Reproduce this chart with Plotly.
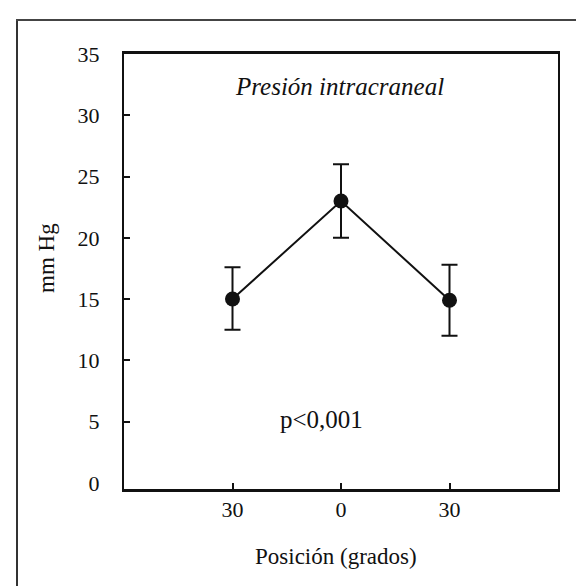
import plotly.graph_objects as go

# ---- data ----
positions = [1, 2, 3]
position_labels = ["30", "0", "30"]
pressure_mean = [15.0, 23.0, 14.9]
err_upper = [2.6, 3.0, 2.9]
err_lower = [2.5, 3.0, 2.9]
y_tick_values = [0, 5, 10, 15, 20, 25, 30, 35]
y_inner_ticks = [5, 10, 15, 20, 25, 30]

W, H = 584, 586
L, R, T, B = 116, 34, 46, 105
PW, PH = W - L - R, H - T - B
FONT = "Liberation Serif"


def px(x):
    return (x - L) / PW


def py(y):
    return (H - B - y) / PH


fig = go.Figure()
fig.add_trace(go.Scatter(
    x=positions, y=pressure_mean,
    mode="lines+markers",
    line=dict(color="#111", width=2),
    marker=dict(color="#111", size=15),
    error_y=dict(type="data", symmetric=False, array=err_upper, arrayminus=err_lower,
                 color="#111", thickness=2, width=8),
    showlegend=False,
))

fig.update_xaxes(
    range=[0, 4], tickvals=positions, ticktext=position_labels,
    showline=True, linecolor="#111", linewidth=2.5, mirror=True,
    ticks="inside", ticklen=6, tickwidth=2, tickcolor="#111",
    ticklabelstandoff=-1,
    showgrid=False, zeroline=False,
    tickfont=dict(family=FONT, size=22, color="#111"),
)
fig.update_yaxes(
    range=[-0.5, 35], tickvals=y_tick_values,
    showline=True, linecolor="#111", linewidth=2, mirror=True,
    ticks="", ticklabelstandoff=18,
    minor=dict(tickvals=y_inner_ticks, ticks="inside", ticklen=6, tickwidth=2, tickcolor="#111"),
    showgrid=False, zeroline=False,
    tickfont=dict(family=FONT, size=22, color="#111"),
)

annots = [
    dict(text="<i>Presión intracraneal</i>", x=px(331), y=py(78), size=25),
    dict(text="p<0,001", x=px(313), y=py(411), size=25),
    dict(text="Posición (grados)", x=px(328), y=py(548), size=23),
]
for a in annots:
    fig.add_annotation(text=a["text"], x=a["x"], y=a["y"], xref="paper", yref="paper",
                       showarrow=False, xanchor="center", yanchor="middle",
                       font=dict(family=FONT, size=a["size"], color="#111"))
fig.add_annotation(text="mm Hg", x=px(38), y=py(250), xref="paper", yref="paper",
                   showarrow=False, textangle=-90, xanchor="center", yanchor="middle",
                   font=dict(family=FONT, size=23, color="#111"))

# outer frame of the figure
fig.add_shape(type="line", xref="paper", yref="paper", x0=px(9), x1=px(9), y0=py(12), y1=py(584),
              line=dict(color="#333", width=2))
fig.add_shape(type="line", xref="paper", yref="paper", x0=px(8), x1=px(583), y0=py(12), y1=py(12),
              line=dict(color="#444", width=2))
fig.add_shape(type="line", xref="paper", yref="paper", x0=px(582), x1=px(582), y0=py(12), y1=py(584),
              line=dict(color="#888", width=1.5))
fig.add_shape(type="line", xref="paper", yref="paper", x0=px(9), x1=px(583), y0=py(583), y1=py(583),
              line=dict(color="#ccc", width=1.5))

fig.update_layout(
    width=W, height=H,
    margin=dict(l=L, r=R, t=T, b=B),
    paper_bgcolor="white", plot_bgcolor="white",
)
fig.write_html("out.html")
